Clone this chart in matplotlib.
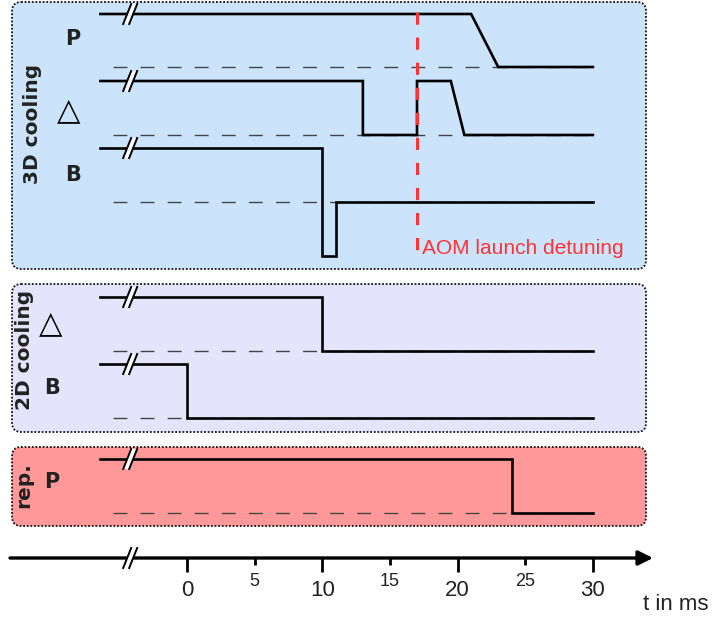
import matplotlib
matplotlib.use("Agg")
import matplotlib.pyplot as plt
from matplotlib.patches import FancyBboxPatch
import numpy as np

# timing data (t in ms, level: 1 high, 0 low, -1 dip below low)
t_p3d = [-6.4, 21, 23, 30]
v_p3d = [1, 1, 0, 0]
t_d3d = [-6.4, 13, 13, 17, 17, 19.5, 20.5, 30]
v_d3d = [1, 1, 0, 0, 1, 1, 0, 0]
t_b3d = [-6.4, 10, 10, 11, 11, 30]
v_b3d = [1, 1, -1, -1, 0, 0]
t_d2d = [-6.4, 10, 10, 30]
v_d2d = [1, 1, 0, 0]
t_b2d = [-6.4, 0, 0, 30]
v_b2d = [1, 1, 0, 0]
t_rep = [-6.4, 24, 24, 30]
v_rep = [1, 1, 0, 0]

aom_t = 17
major_ticks = [0, 10, 20, 30]
minor_ticks = [5, 15, 25]

W, H = 714, 622
x0_px, px_per_ms = 187, 13.53
k = 1 / px_per_ms

fig = plt.figure(figsize=(W / 100, H / 100), dpi=100)

# layout axes in pixels (panels, labels)
lay = fig.add_axes([0, 0, 1, 1], zorder=0)
lay.set_xlim(0, W)
lay.set_ylim(H, 0)
lay.axis("off")

# data axes: x in ms
ax = fig.add_axes([0, 0, 1, 1], zorder=1)
ax.set_xlim(-x0_px * k, (W - x0_px) * k)
ax.set_ylim(H, 0)
ax.axis("off")
ax.patch.set_alpha(0)

panels = [(2, 269, "#cbe4fc", "3D cooling", 32, 124),
          (284, 432, "#e4e4fc", "2D cooling", 24, 350),
          (447, 526, "#ff9999", "rep.", 24, 485)]
for top, bot, col, name, tx, ty in panels:
    box = FancyBboxPatch((12, top), 634, bot - top,
                         boxstyle="round,pad=0,rounding_size=9",
                         fc=col, ec="#111111", lw=1.3, ls=(0, (1, 1)))
    lay.add_patch(box)
    lay.text(tx, ty, name, rotation=90, ha="center", va="center",
             fontsize=14.5, fontweight="bold", color="#222222")

channels = [(t_p3d, v_p3d, 14, 67, "P", 73, 39),
            (t_d3d, v_d3d, 81, 135, "\u25b3", 69, 111),
            (t_b3d, v_b3d, 148, 202, "B", 73, 175),
            (t_d2d, v_d2d, 297, 351, "\u25b3", 51, 324),
            (t_b2d, v_b2d, 364, 418, "B", 52, 388),
            (t_rep, v_rep, 459, 513, "P", 52, 482)]

t_dash0 = -5.5
t_brk = -4.2
for t, v, yh, yl, lab, lx, ly in channels:
    amp = yl - yh
    y = yl - np.array(v) * amp
    ax.plot([t_dash0, 30], [yl, yl], color="#444444", lw=1.0,
            dashes=(10, 9.5), zorder=2)
    ax.plot(t, y, color="black", lw=1.9, solid_joinstyle="miter", zorder=3)
    # break mark
    ax.plot([t_brk - 4 * k, t_brk + 4 * k], [yh + 10, yh - 10],
            color="white", lw=3.5, solid_capstyle="butt", zorder=4)
    for off in (-3, 3):
        ax.plot([t_brk + (off - 4) * k, t_brk + (off + 4) * k],
                [yh + 10, yh - 10], color="black", lw=1.4, zorder=5)
    if lab == "\u25b3":
        lay.text(lx, ly, lab, ha="center", va="center", fontsize=22,
                 color="black")
    else:
        lay.text(lx, ly, lab, ha="center", va="center", fontsize=15,
                 fontweight="bold", color="#222222")

# AOM launch line
ax.plot([aom_t, aom_t], [12, 262], color="#ff3333", lw=2.2,
        dashes=(4, 4.2), zorder=6)
ax.text(aom_t + 5 * k, 248, "AOM launch detuning", color="#ff3333",
        fontsize=15, family="Liberation Sans", ha="left", va="center")

# time axis
ya = 558
ax.annotate("", xy=(653 * k - x0_px * k, ya), xytext=(10 * k - x0_px * k, ya),
            arrowprops=dict(arrowstyle="-|>", lw=2.4, color="black",
                            mutation_scale=22, shrinkA=0, shrinkB=0))
ax.plot([t_brk - 4 * k, t_brk + 4 * k], [ya + 10, ya - 10],
        color="white", lw=3.5, solid_capstyle="butt", zorder=4)
for off in (-3, 3):
    ax.plot([t_brk + (off - 4) * k, t_brk + (off + 4) * k],
            [ya + 10, ya - 10], color="black", lw=1.4, zorder=5)
ax.vlines(major_ticks, ya, ya + 14, color="black", lw=2)
ax.vlines(minor_ticks, ya, ya + 7, color="black", lw=2)
tick_font = ["Liberation Sans Narrow", "Liberation Sans"]
for t in major_ticks:
    ax.text(t, 590, str(t), ha="center", va="center", fontsize=16,
            family=tick_font, color="#222222")
for t in minor_ticks:
    ax.text(t, 582, str(t), ha="center", va="center", fontsize=13,
            family=tick_font, color="#222222")
ax.text((676 - x0_px) * k, 605, "t in ms", ha="center", va="center",
        fontsize=16, family=tick_font, color="#222222")

fig.savefig("out.png", dpi=100)
